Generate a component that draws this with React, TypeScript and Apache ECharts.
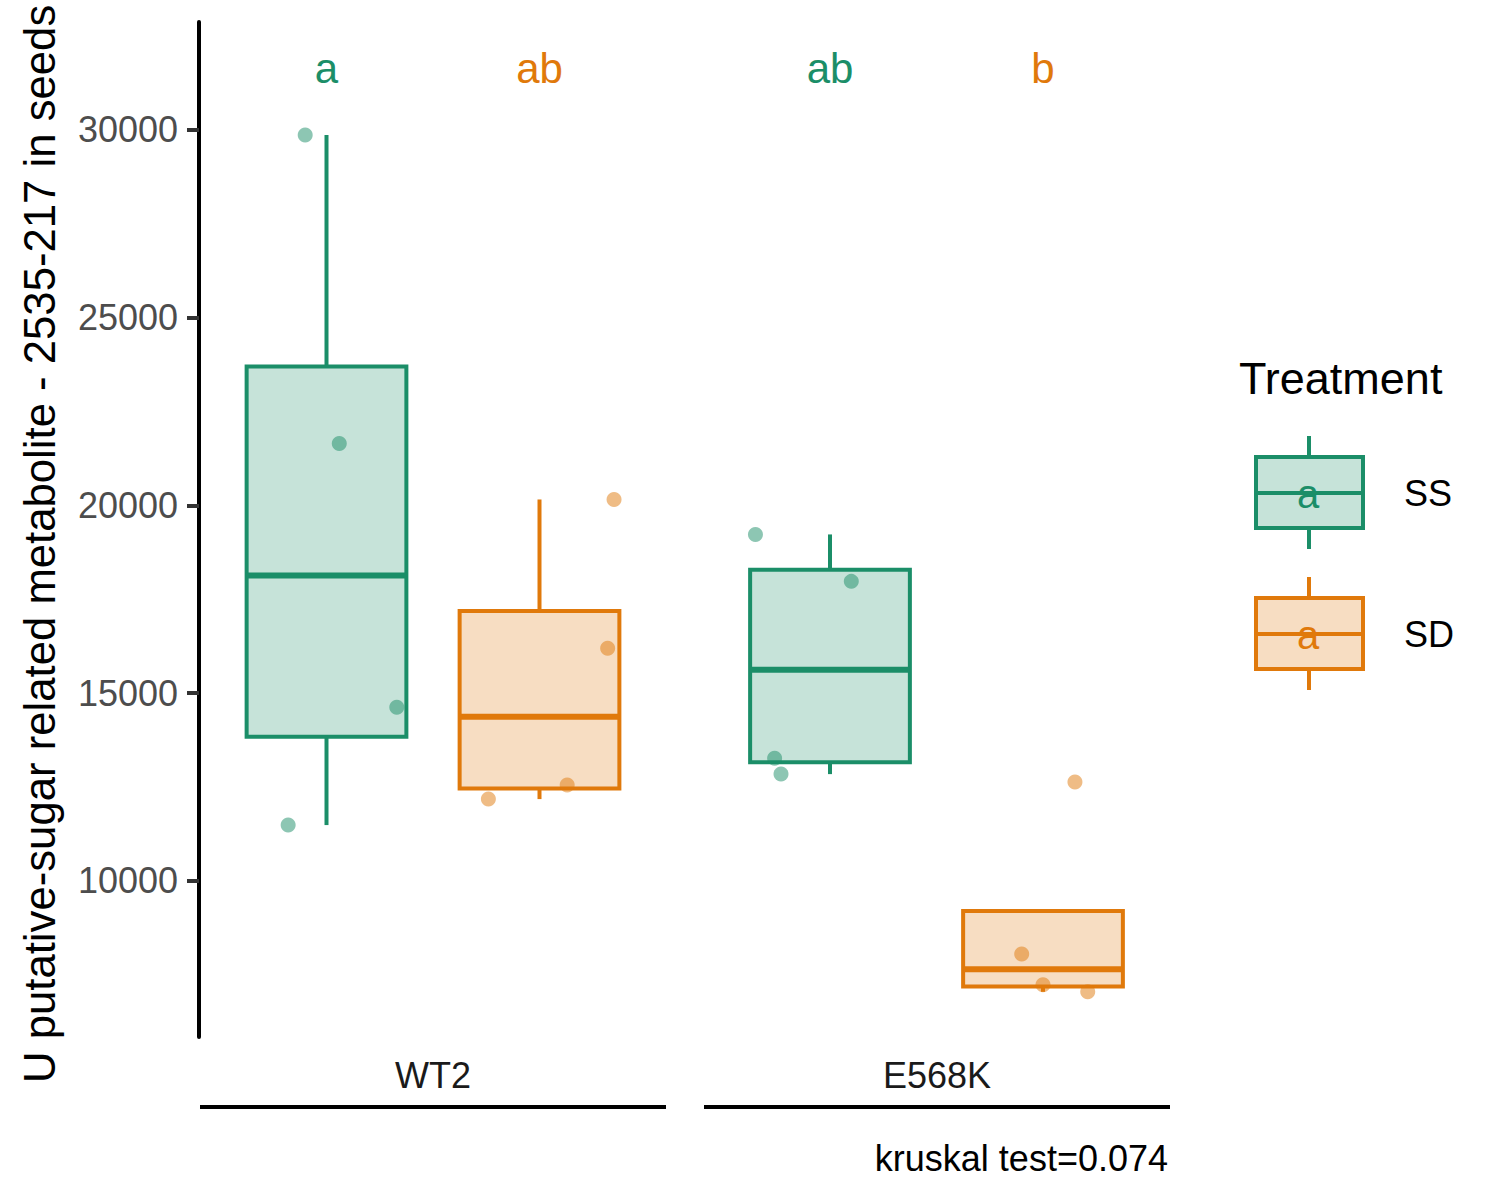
import React, { useEffect, useRef } from "react";
import * as echarts from "echarts";

// ---------- data ----------
const GENOTYPES = ["WT2", "E568K"];
const TREATMENTS = ["SS", "SD"];
const COLORS = ["#1B8E68", "#E0790B"];

// measured values (one array per group), with horizontal jitter in category units
const WT2_SS = [29867, 21649, 14628, 11489];
const WT2_SS_JITTER = [-0.1, 0.06, 0.33, -0.18];
const WT2_SD = [20160, 16197, 12553, 12181];
const WT2_SD_JITTER = [0.35, 0.32, 0.13, -0.24];
const E568K_SS = [19229, 17979, 13271, 12846];
const E568K_SS_JITTER = [-0.35, 0.1, -0.26, -0.23];
const E568K_SD = [12633, 8058, 7234, 7048];
const E568K_SD_JITTER = [0.15, -0.1, 0.0, 0.21];

const GROUP_VALUES = [
  [WT2_SS, WT2_SD],
  [E568K_SS, E568K_SD],
];
const GROUP_JITTER = [
  [WT2_SS_JITTER, WT2_SD_JITTER],
  [E568K_SS_JITTER, E568K_SD_JITTER],
];
const LETTERS = [
  ["a", "ab"],
  ["ab", "b"],
];
const LETTER_Y = 31650;
const Y_TICKS = [10000, 15000, 20000, 25000, 30000];
const Y_MIN = 5845;
const Y_MAX = 32876;
const Y_TITLE = "U putative-sugar related metabolite - 2535-217 in seeds";
const TEST_LABEL = "kruskal test=0.074";
const LEGEND_TITLE = "Treatment";

const FONT = "'Liberation Sans', Arial, Helvetica, sans-serif";

function quantile(sorted: number[], p: number) {
  const h = (sorted.length - 1) * p;
  const lo = Math.floor(h);
  const hi = Math.ceil(h);
  return sorted[lo] + (h - lo) * (sorted[hi] - sorted[lo]);
}

function boxStats(values: number[]) {
  const s = [...values].sort((a, b) => a - b);
  const q1 = quantile(s, 0.25);
  const med = quantile(s, 0.5);
  const q3 = quantile(s, 0.75);
  const iqr = q3 - q1;
  const lo = Math.min(...s.filter((v) => v >= q1 - 1.5 * iqr));
  const hi = Math.max(...s.filter((v) => v <= q3 + 1.5 * iqr));
  return [lo, q1, med, q3, hi];
}

function hexA(hex: string, a: number) {
  const r = parseInt(hex.slice(1, 3), 16);
  const g = parseInt(hex.slice(3, 5), 16);
  const b = parseInt(hex.slice(5, 7), 16);
  return `rgba(${r},${g},${b},${a})`;
}

export default function App() {
  const ref = useRef<HTMLDivElement>(null);
  useEffect(() => {
    document.body.style.margin = "0";
    const chart = echarts.init(ref.current!, null, { renderer: "svg" });

    const grids = [
      { left: 220, top: 22, width: 426, height: 1015 },
      { left: 723.5, top: 22, width: 426, height: 1015 },
    ];

    const xAxes = grids.map((_, i) => ({
      type: "value",
      gridIndex: i,
      min: -0.5,
      max: 1.5,
      show: false,
    }));

    const yAxes = grids.map((_, i) => ({
      type: "value",
      gridIndex: i,
      min: Y_MIN,
      max: Y_MAX,
      show: i === 0,
      position: "left",
      offset: 21,
      splitLine: { show: false },
      axisLine: { show: true, onZero: false, lineStyle: { color: "#000", width: 4 } },
      axisTick: {
        show: true,
        length: 12,
        customValues: Y_TICKS,
        lineStyle: { color: "#333", width: 4 },
      },
      axisLabel: {
        show: true,
        customValues: Y_TICKS,
        margin: 21,
        fontSize: 36,
        color: "#4D4D4D",
        fontFamily: FONT,
        formatter: (v: number) => String(v),
      },
    }));

    const series: any[] = [];
    GENOTYPES.forEach((g, gi) => {
      // boxes
      const boxData = TREATMENTS.map((t, ti) => [ti, ...boxStats(GROUP_VALUES[gi][ti])]);
      series.push({
        type: "custom",
        name: g + " box",
        xAxisIndex: gi,
        yAxisIndex: gi,
        data: boxData,
        z: 2,
        renderItem: (params: any, api: any) => {
          const ti = api.value(0);
          const color = COLORS[ti];
          const w = api.size([0.75, 0])[0];
          const [cx, yLo] = api.coord([ti, api.value(1)]);
          const yQ1 = api.coord([ti, api.value(2)])[1];
          const yMed = api.coord([ti, api.value(3)])[1];
          const yQ3 = api.coord([ti, api.value(4)])[1];
          const yHi = api.coord([ti, api.value(5)])[1];
          const children: any[] = [];
          if (yHi < yQ3)
            children.push({
              type: "line",
              shape: { x1: cx, y1: yQ3, x2: cx, y2: yHi },
              style: { stroke: color, lineWidth: 4 },
            });
          if (yLo > yQ1)
            children.push({
              type: "line",
              shape: { x1: cx, y1: yQ1, x2: cx, y2: yLo },
              style: { stroke: color, lineWidth: 4 },
            });
          children.push({
            type: "rect",
            shape: { x: cx - w / 2, y: yQ3, width: w, height: yQ1 - yQ3 },
            style: { fill: hexA(color, 0.25), stroke: color, lineWidth: 4 },
          });
          children.push({
            type: "line",
            shape: { x1: cx - w / 2, y1: yMed, x2: cx + w / 2, y2: yMed },
            style: { stroke: color, lineWidth: 6 },
          });
          return { type: "group", children };
        },
      });
      // points
      TREATMENTS.forEach((t, ti) => {
        series.push({
          type: "scatter",
          name: g + " " + t,
          xAxisIndex: gi,
          yAxisIndex: gi,
          z: 3,
          symbolSize: 15,
          itemStyle: { color: COLORS[ti], opacity: 0.5 },
          data: GROUP_VALUES[gi][ti].map((v, k) => [ti + GROUP_JITTER[gi][ti][k], v]),
        });
      });
      // letters
      series.push({
        type: "custom",
        name: g + " letters",
        xAxisIndex: gi,
        yAxisIndex: gi,
        z: 4,
        data: TREATMENTS.map((t, ti) => [ti, LETTER_Y]),
        renderItem: (params: any, api: any) => {
          const ti = api.value(0);
          const [x, y] = api.coord([ti, api.value(1)]);
          return {
            type: "text",
            style: {
              text: LETTERS[gi][ti],
              x,
              y,
              fill: COLORS[ti],
              fontSize: 42,
              fontFamily: FONT,
              align: "center",
              verticalAlign: "middle",
            },
          };
        },
      });
    });

    // legend & annotations
    const graphic: any[] = [
      {
        type: "text",
        x: 39,
        y: 1083,
        rotation: Math.PI / 2,
        style: {
          text: Y_TITLE,
          fontSize: 43.7,
          fontFamily: FONT,
          fill: "#000",
          align: "left",
          verticalAlign: "middle",
        },
      },
      ...GENOTYPES.flatMap((g, gi) => {
        const left = gi === 0 ? 200 : 704;
        return [
          {
            type: "text",
            x: left + 233,
            y: 1075,
            style: {
              text: g,
              fontSize: 36,
              fontFamily: FONT,
              fill: "#1A1A1A",
              align: "center",
              verticalAlign: "middle",
            },
          },
          {
            type: "line",
            shape: { x1: left, y1: 1107, x2: left + 466, y2: 1107 },
            style: { stroke: "#000", lineWidth: 4 },
          },
        ];
      }),
      {
        type: "text",
        x: 1168,
        y: 1158,
        style: {
          text: TEST_LABEL,
          fontSize: 36,
          fontFamily: FONT,
          fill: "#000",
          align: "right",
          verticalAlign: "middle",
        },
      },
      {
        type: "text",
        x: 1239,
        y: 378,
        style: {
          text: LEGEND_TITLE,
          fontSize: 45,
          fontFamily: FONT,
          fill: "#000",
          align: "left",
          verticalAlign: "middle",
        },
      },
      ...TREATMENTS.flatMap((t, ti) => {
        const c = COLORS[ti];
        const top = 457 + ti * 141;
        const cx = 1309;
        return [
          {
            type: "line",
            shape: { x1: cx, y1: top - 21, x2: cx, y2: top },
            style: { stroke: c, lineWidth: 4 },
          },
          {
            type: "line",
            shape: { x1: cx, y1: top + 71, x2: cx, y2: top + 92 },
            style: { stroke: c, lineWidth: 4 },
          },
          {
            type: "rect",
            shape: { x: 1256, y: top, width: 107, height: 71 },
            style: { fill: hexA(c, 0.25), stroke: c, lineWidth: 4 },
          },
          {
            type: "line",
            shape: { x1: 1256, y1: top + 36, x2: 1363, y2: top + 36 },
            style: { stroke: c, lineWidth: 4 },
          },
          {
            type: "text",
            x: cx - 1,
            y: top + 37,
            style: {
              text: "a",
              fontSize: 40,
              fontFamily: FONT,
              fill: c,
              align: "center",
              verticalAlign: "middle",
            },
          },
          {
            type: "text",
            x: 1404,
            y: top + 36,
            style: {
              text: t,
              fontSize: 36,
              fontFamily: FONT,
              fill: "#000",
              align: "left",
              verticalAlign: "middle",
            },
          },
        ];
      }),
    ];

    chart.setOption({
      animation: false,
      backgroundColor: "#fff",
      grid: grids,
      xAxis: xAxes,
      yAxis: yAxes,
      series,
      graphic,
    });
    return () => chart.dispose();
  }, []);
  return <div ref={ref} style={{ width: 1500, height: 1200 }} />;
}
